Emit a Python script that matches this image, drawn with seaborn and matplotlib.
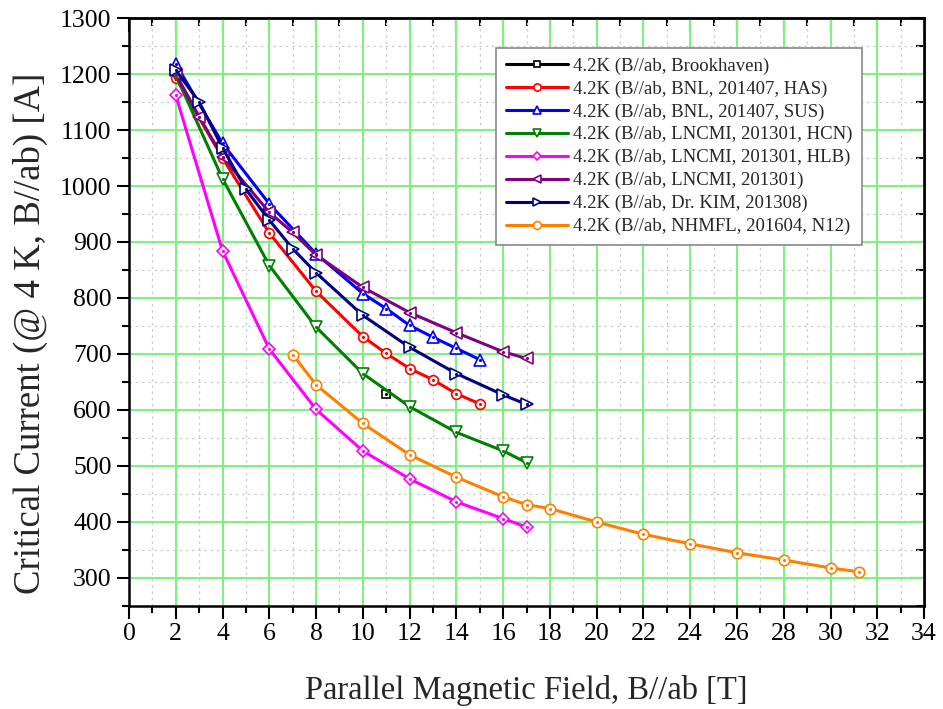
import matplotlib
matplotlib.use("Agg")
import matplotlib.pyplot as plt
import seaborn as sns
import pandas as pd
from matplotlib.ticker import MultipleLocator, NullFormatter

sns.set_theme(style="white")
plt.rcParams['font.family'] = ['Liberation Serif', 'DejaVu Serif']

# ---- data ----
labels = [
    "4.2K (B//ab, Brookhaven)",
    "4.2K (B//ab, BNL, 201407, HAS)",
    "4.2K (B//ab, BNL, 201407, SUS)",
    "4.2K (B//ab, LNCMI, 201301, HCN)",
    "4.2K (B//ab, LNCMI, 201301, HLB)",
    "4.2K (B//ab, LNCMI, 201301)",
    "4.2K (B//ab, Dr. KIM, 201308)",
    "4.2K (B//ab, NHMFL, 201604, N12)",
]

bnl_x = [11]
bnl_y = [629]

has_x = [2, 4, 6, 8, 10, 11, 12, 13, 14, 15]
has_y = [1193, 1050, 916, 812, 731, 701, 674, 654, 629, 611]

sus_x = [2, 4, 6, 8, 10, 11, 12, 13, 14, 15]
sus_y = [1218, 1076, 968, 879, 808, 781, 751, 730, 710, 690]

hcn_x = [2, 4, 6, 8, 10, 12, 14, 16, 17]
hcn_y = [1198, 1013, 858, 748, 665, 606, 560, 527, 506]

hlb_x = [2, 4, 6, 8, 10, 12, 14, 16, 17]
hlb_y = [1162, 884, 709, 601, 527, 477, 436, 406, 391]

lncmi_x = [2, 3, 4, 6, 7, 8, 10, 12, 14, 16, 17]
lncmi_y = [1200, 1124, 1052, 953, 917, 877, 819, 774, 738, 704, 692]

kim_x = [2, 3, 4, 5, 6, 7, 8, 10, 12, 14, 16, 17]
kim_y = [1207, 1150, 1068, 994, 939, 888, 845, 769, 712, 665, 627, 610]

n12_x = [7, 8, 10, 12, 14, 16, 17, 18, 20, 22, 24, 26, 28, 30, 31.2]
n12_y = [699, 645, 576, 520, 480, 445, 431, 424, 400, 378, 361, 345, 332, 318, 311]

xs = [bnl_x, has_x, sus_x, hcn_x, hlb_x, lncmi_x, kim_x, n12_x]
ys = [bnl_y, has_y, sus_y, hcn_y, hlb_y, lncmi_y, kim_y, n12_y]
colors = ["#000000", "#FF0000", "#0000FF", "#008000", "#FF00FF", "#800080", "#000080", "#FF8000"]
markers = ["s", "o", "^", "v", "D", "<", ">", "o"]
msizes = [6, 7, 8, 8, 6, 8, 8, 7.5]

fig = plt.figure(figsize=(9.43, 7.09), dpi=100)
ax = fig.add_axes([0.1368, 0.1453, 0.8431, 0.8293])

for lab, x, y, c, m, ms in zip(labels, xs, ys, colors, markers, msizes):
    df = pd.DataFrame({"x": x, "y": y})
    sns.lineplot(data=df, x="x", y="y", ax=ax, color=c, marker=m, markersize=ms,
                 markerfacecolor="white", markeredgecolor=c, markeredgewidth=1.2,
                 linewidth=2.2, label=lab, sort=False, estimator=None, zorder=3)
    ax.plot(x, y, linestyle="none", marker=".", markersize=2.5, color=c, zorder=4)

ax.set_xlim(0, 34)
ax.set_ylim(250, 1300)
ax.xaxis.set_major_locator(MultipleLocator(2))
ax.xaxis.set_minor_locator(MultipleLocator(1))
ax.yaxis.set_major_locator(MultipleLocator(100))
ax.yaxis.set_minor_locator(MultipleLocator(50))

ax.grid(which="minor", color="#cccccc", linestyle=(0, (2, 3)), linewidth=0.9, zorder=0)
ax.grid(which="major", color="#80F080", linestyle="-", linewidth=1.5, zorder=1)
ax.set_axisbelow(True)

for s in ax.spines.values():
    s.set_linewidth(1.8)
    s.set_color("black")

ax.tick_params(which="both", direction="out", bottom=True, left=True, top=False, right=False,
               width=1.5, colors="black", labelsize=18.5)
ax.tick_params(which="major", length=9)
ax.tick_params(which="minor", length=5)

# mirrored inward ticks on top and right
for sec in (ax.secondary_xaxis("top"), ax.secondary_yaxis("right")):
    sec.tick_params(which="both", direction="in", width=1.5, colors="black")
    sec.tick_params(which="major", length=10)
    sec.tick_params(which="minor", length=6)
    if sec._orientation == "x":
        sec.xaxis.set_major_locator(MultipleLocator(2))
        sec.xaxis.set_minor_locator(MultipleLocator(1))
        sec.xaxis.set_major_formatter(NullFormatter())
    else:
        sec.yaxis.set_major_locator(MultipleLocator(100))
        sec.yaxis.set_minor_locator(MultipleLocator(50))
        sec.yaxis.set_major_formatter(NullFormatter())
    for s in sec.spines.values():
        s.set_linewidth(1.8)

ax.set_xlabel("Parallel Magnetic Field, B//ab [T]", fontsize=23.5)
ax.xaxis.set_label_coords(0.5, -0.117)
ax.set_ylabel("Critical Current (@ 4 K, B//ab) [A]", fontsize=26.5)
ax.yaxis.set_label_coords(-0.102, 0.464)

leg = ax.legend(loc="upper right", bbox_to_anchor=(0.922, 0.949), borderaxespad=0,
                fontsize=13.5, frameon=True, fancybox=False, edgecolor="#888888",
                framealpha=1, handlelength=3.3, handletextpad=0.3, borderpad=0.5,
                labelspacing=0.3, markerscale=0.75)
leg.get_frame().set_linewidth(1.2)

fig.savefig("out.png", dpi=100)
